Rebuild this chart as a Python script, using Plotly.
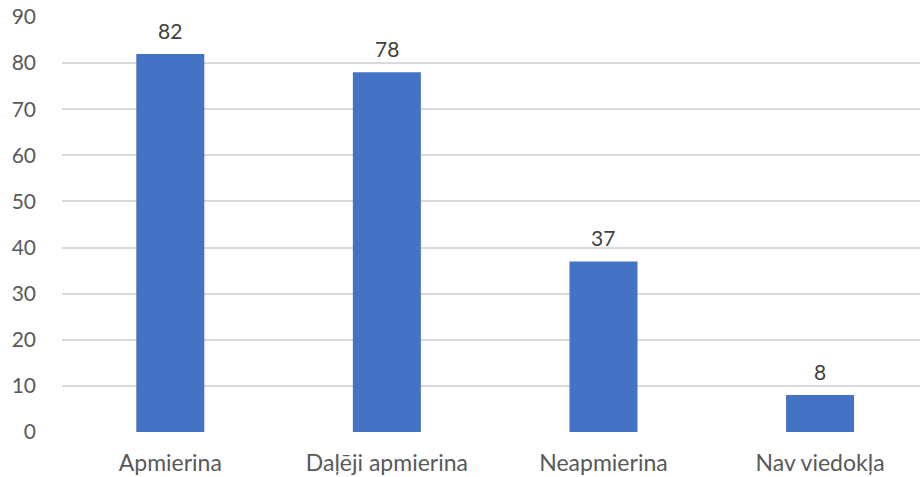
import plotly.graph_objects as go

categories = ["Apmierina", "Daļēji apmierina", "Neapmierina", "Nav viedokļa"]
values = [82, 78, 37, 8]
y_ticks = [0, 10, 20, 30, 40, 50, 60, 70, 80, 90]

FONT = "Lato, Open Sans, sans-serif"
FS = 23
FN = 21

fig = go.Figure()
fig.add_trace(go.Bar(
    x=categories, y=values,
    marker=dict(color="#4472C4", line=dict(width=0)),
    width=0.314,
    hoverinfo="x+y",
))

for c, v in zip(categories, values):
    fig.add_annotation(x=c, y=v, text=str(v), showarrow=False,
                       yanchor="bottom", yshift=9,
                       font=dict(family=FONT, size=FN, color="#404040"))

fig.update_layout(
    width=920, height=477,
    margin=dict(l=62, r=0, t=17, b=45, autoexpand=False),
    plot_bgcolor="white", paper_bgcolor="white",
    showlegend=False,
    font=dict(family=FONT, size=FS, color="#595959"),
    xaxis=dict(range=[-0.5, 3.4615], showgrid=False, zeroline=False,
               showline=False, ticks="", ticklabelstandoff=15, automargin=False,
               tickfont=dict(family=FONT, size=FS, color="#595959")),
    yaxis=dict(range=[0, 90], tickvals=y_ticks, showgrid=True,
               gridcolor="#D9D9D9", gridwidth=2, zeroline=False,
               showline=False, ticks="", ticklabelstandoff=25, automargin=False,
               tickfont=dict(family=FONT, size=FN, color="#595959")),
    bargap=0.686,
)

fig.write_html("out.html", config={"displayModeBar": False},
               post_script="document.body.style.margin='0px';document.body.style.overflow='hidden';")
